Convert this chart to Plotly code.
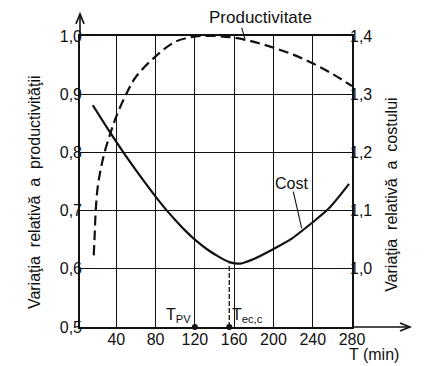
import plotly.graph_objects as go

# Data
t_prod = [17, 18, 19, 21, 24, 28, 34, 40, 50, 60, 80, 100, 120, 140, 160, 180, 200, 220, 240, 260, 280]
productivity = [0.623, 0.66, 0.70, 0.74, 0.77, 0.80, 0.833, 0.862, 0.90, 0.93, 0.965, 0.99, 0.999, 1.0,
                0.997, 0.99, 0.98, 0.968, 0.953, 0.935, 0.914]

t_cost = [16, 30, 40, 50, 64, 80, 90, 100, 110, 120, 132, 145, 156, 166, 180, 200, 217, 240, 256, 277]
cost = [1.281, 1.244, 1.218, 1.193, 1.160, 1.124, 1.103, 1.084, 1.066, 1.050, 1.034, 1.020, 1.011, 1.009,
        1.017, 1.034, 1.050, 1.080, 1.103, 1.146]

x_ticks = [40, 80, 120, 160, 200, 240, 280]
y_left_ticks = [0.5, 0.6, 0.7, 0.8, 0.9, 1.0]
y_right_ticks = [1.0, 1.1, 1.2, 1.3, 1.4]

t_pv = 120
t_ecc = 155
cost_min_left = 0.609

X0, X1 = 3, 280
Y0, Y1 = 0.5, 1.0
Y2_0, Y2_1 = 0.9, 1.4

FONT = "Liberation Sans, Arial, sans-serif"
BLACK = "#111111"

def xp(t):
    return (t - X0) / (X1 - X0)

def yp(v):
    return (v - Y0) / (Y1 - Y0)

fig = go.Figure()

fig.add_trace(go.Scatter(x=t_prod, y=productivity, mode="lines",
                         line=dict(color=BLACK, width=2.2, dash="10px,5px", shape="spline"),
                         hoverinfo="skip", showlegend=False))
fig.add_trace(go.Scatter(x=t_cost, y=cost, mode="lines", yaxis="y2",
                         line=dict(color=BLACK, width=2.2, shape="spline", smoothing=0.8),
                         hoverinfo="skip", showlegend=False))
# vertical dashed line at economic durability
fig.add_trace(go.Scatter(x=[t_ecc, t_ecc], y=[Y0, cost_min_left], mode="lines",
                         line=dict(color=BLACK, width=1.3, dash="5px,2px"), hoverinfo="skip", showlegend=False))
fig.add_trace(go.Scatter(x=[t_pv, t_ecc], y=[Y0, Y0], mode="markers", marker=dict(color=BLACK, size=6),
                         cliponaxis=False, hoverinfo="skip", showlegend=False))

axis_common = dict(showline=True, linecolor=BLACK, linewidth=1.6, ticks="", zeroline=False,
                   tickfont=dict(family=FONT, size=16, color=BLACK))

fig.update_layout(
    width=426, height=358, autosize=False,
    margin=dict(l=72, r=82, t=28, b=39),
    paper_bgcolor="white", plot_bgcolor="white",
    separators=",.",
    font=dict(family=FONT, color=BLACK),
    xaxis=dict(range=[X0, X1], tickvals=x_ticks, showgrid=True, gridcolor=BLACK, gridwidth=1.3,
               mirror=True, ticklabelstandoff=-3, **axis_common),
    yaxis=dict(range=[Y0, Y1], tickvals=y_left_ticks, tickformat=".1f", showgrid=True, gridcolor=BLACK,
               gridwidth=1.3, mirror=True, ticklabelstandoff=-7, **axis_common),
    yaxis2=dict(range=[Y2_0, Y2_1], tickvals=y_right_ticks, tickformat=".1f", overlaying="y", side="right",
                showgrid=False, ticklabelstandoff=-7, **axis_common),
)

def ann(x, y, text, size, xref="paper", yref="paper", angle=0):
    return dict(x=x, y=y, xref=xref, yref=yref, text=text, showarrow=False, textangle=angle,
                xanchor="center", yanchor="middle", borderpad=0,
                font=dict(family=FONT, size=size, color=BLACK))

annotations = [
    ann(0.665, 1.062, "Productivitate", 17),
    ann(217.9, 1.146, "Cost", 16, xref="x", yref="y2"),
    ann(103.8, 0.5206, "T<sub>PV</sub>", 16, xref="x", yref="y"),
    ann(173.5, 0.5206, "T<sub>ec,c</sub>", 16, xref="x", yref="y"),
    ann(1.08, -0.095, "T (min)", 16),
    ann(-0.165, 0.464, "Variaţia  relativă  a  productivităţii", 16, angle=-90),
    ann(1.147, 0.454, "Variaţia  relativă  a  costului", 16, angle=-90),
]
fig.update_layout(annotations=annotations)

line_style = dict(color=BLACK, width=1.6)
shapes = [
    # y axis extension + arrow
    dict(type="line", xref="paper", yref="paper", x0=0, x1=0, y0=1, y1=1.076, line=line_style),
    dict(type="path", xref="paper", yref="paper",
         path=f"M {-4/272},{1.076-10/291} L 0,1.076 L {4/272},{1.076-10/291}", line=line_style),
    # x axis extension + arrow
    dict(type="line", xref="paper", yref="paper", x0=1, x1=1.213, y0=0, y1=0, line=line_style),
    dict(type="path", xref="paper", yref="paper",
         path=f"M {1.213-10/272},{4/291} L 1.213,0 L {1.213-10/272},{-4/291}", line=line_style),
    # leaders
    dict(type="line", xref="paper", yref="paper", x0=xp(167.7), y0=yp(1.014), x1=xp(171), y1=yp(0.995),
         line=dict(color=BLACK, width=1.1)),
    dict(type="line", xref="paper", yref="paper", x0=xp(220.2), y0=yp(0.7325), x1=xp(228.8), y1=yp(0.6696),
         line=dict(color=BLACK, width=1.1)),
]
fig.update_layout(shapes=shapes)

fig.write_html("out.html")
